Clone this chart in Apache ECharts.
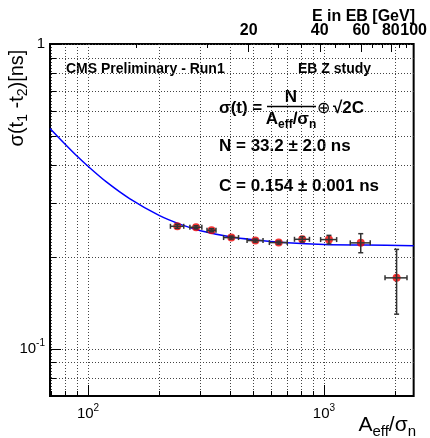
<!DOCTYPE html>
<html>
<head>
<meta charset="utf-8">
<script src="https://cdn.jsdelivr.net/npm/echarts@6/dist/echarts.min.js"></script>
<style>
html, body { margin: 0; padding: 0; background: #fff; }
#main { width: 430px; height: 438px; }
</style>
</head>
<body>
<div id="main"></div>
<script>
// measured points (A_eff/sigma_n, sigma(t1-t2) in ns)
var ratio = [239, 287, 334, 405, 512, 643, 809, 1050, 1432, 2032];
var ratio_err = [15.5, 16.7, 14.6, 29.5, 39.8, 56, 59, 82, 139, 217];
var sigma = [0.2523, 0.2505, 0.2449, 0.2317, 0.2265, 0.2231, 0.2287, 0.2282, 0.2226, 0.1709];
var sigma_err = [0.0038, 0.0028, 0.0028, 0.0026, 0.0026, 0.0025, 0.0046, 0.0074, 0.016, 0.041];

// fit curve
var fit_x = [69, 80, 90, 100, 120, 150, 200, 250, 300, 400, 500, 700, 1000, 1500, 2400];
var fit_y = [0.528, 0.469, 0.428, 0.397, 0.352, 0.311, 0.274, 0.255, 0.244, 0.233, 0.228, 0.223, 0.220, 0.219, 0.218];

// axes
var x_range = [69, 2400];
var y_range = [0.07, 1];
var x_major = [100, 1000];
var x_minor = [70, 80, 90, 200, 300, 400, 500, 600, 700, 800, 900, 2000];
var y_major = [0.1, 1];
var y_minor = [0.08, 0.09, 0.2, 0.3, 0.4, 0.5, 0.6, 0.7, 0.8, 0.9];
var e_ticks = [6.67, 13.3, 26.7, 33.3, 46.7, 53.3, 66.7, 73.3, 86.7, 93.3];
var e_labels = [20, 40, 60, 80, 100];
var ratio_per_gev = 24;

var FONT = '"Liberation Sans", Arial, Helvetica, sans-serif';

var chart = echarts.init(document.getElementById('main'));

function pow_label(v) {
	var e = Math.round(Math.log(v) / Math.LN10);
	if (e === 0) return '1';
	return '10{sup|' + e + '}';
}

var sup_rich = { sup: { fontSize: 10, verticalAlign: 'top', fontFamily: FONT, color: '#000' } };

var points = [];
for (var i = 0; i < ratio.length; i++) {
	points.push([ratio[i], sigma[i], ratio_err[i], sigma_err[i]]);
}
var fit = [];
for (var j = 0; j < fit_x.length; j++) {
	fit.push([fit_x[j], fit_y[j]]);
}

function err_bars(params, api) {
	var x = api.value(0), y = api.value(1), dx = api.value(2), dy = api.value(3);
	var c = api.coord([x, y]);
	var xl = api.coord([x - dx, y]), xh = api.coord([x + dx, y]);
	var yl = api.coord([x, y - dy]), yh = api.coord([x, y + dy]);
	var st = { stroke: '#333', lineWidth: 1.5 };
	var cap = 2.5;
	return {
		type: 'group',
		children: [
			{ type: 'line', shape: { x1: xl[0], y1: c[1], x2: xh[0], y2: c[1] }, style: st },
			{ type: 'line', shape: { x1: c[0], y1: yl[1], x2: c[0], y2: yh[1] }, style: st },
			{ type: 'line', shape: { x1: xl[0], y1: c[1] - cap, x2: xl[0], y2: c[1] + cap }, style: st },
			{ type: 'line', shape: { x1: xh[0], y1: c[1] - cap, x2: xh[0], y2: c[1] + cap }, style: st },
			{ type: 'line', shape: { x1: c[0] - cap, y1: yl[1], x2: c[0] + cap, y2: yl[1] }, style: st },
			{ type: 'line', shape: { x1: c[0] - cap, y1: yh[1], x2: c[0] + cap, y2: yh[1] }, style: st }
		]
	};
}

var grid_line = { show: true, lineStyle: { color: '#444', width: 1, type: [1, 2] } };

chart.setOption({
	animation: false,
	backgroundColor: '#fff',
	grid: {
		left: 50, right: 14, top: 44, bottom: 42,
		show: true, borderColor: '#000', borderWidth: 2, backgroundColor: 'transparent'
	},
	xAxis: [
	{
		// bottom, major ticks + labels
		type: 'log', min: x_range[0], max: x_range[1], position: 'bottom',
		axisLine: { show: false },
		axisTick: { inside: true, length: 11, customValues: x_major, lineStyle: { color: '#000', width: 1 } },
		axisLabel: {
			customValues: x_major, margin: 7, color: '#000', fontFamily: FONT, fontSize: 15, lineHeight: 22,
			formatter: pow_label, rich: sup_rich
		},
		splitLine: { show: false }
	},
	{
		// bottom, minor ticks + grid
		type: 'log', min: x_range[0], max: x_range[1], position: 'bottom',
		axisLine: { show: false },
		axisTick: { inside: true, length: 5, customValues: x_major.concat(x_minor), lineStyle: { color: '#000', width: 1 } },
		axisLabel: { show: false },
		splitLine: grid_line
	},
	{
		// top, E in EB
		type: 'log', min: x_range[0] / ratio_per_gev, max: x_range[1] / ratio_per_gev, position: 'top',
		axisLine: { show: false },
		axisTick: { inside: true, length: 8, customValues: e_labels, lineStyle: { color: '#000', width: 1 } },
		axisLabel: {
			customValues: e_labels, margin: 5, color: '#000', fontFamily: FONT, fontSize: 16, fontWeight: 'bold'
		},
		splitLine: { show: false }
	},
	{
		type: 'log', min: x_range[0] / ratio_per_gev, max: x_range[1] / ratio_per_gev, position: 'top',
		axisLine: { show: false },
		axisTick: { inside: true, length: 4, customValues: e_ticks, lineStyle: { color: '#000', width: 1 } },
		axisLabel: { show: false },
		splitLine: { show: false }
	}
	],
	yAxis: [
	{
		type: 'log', min: y_range[0], max: y_range[1], position: 'left',
		axisLine: { show: false },
		axisTick: { inside: true, length: 11, customValues: y_major, lineStyle: { color: '#000', width: 1 } },
		axisLabel: {
			customValues: y_major, margin: 5, color: '#000', fontFamily: FONT, fontSize: 15, lineHeight: 22,
			formatter: pow_label, rich: sup_rich
		},
		splitLine: { show: false }
	},
	{
		type: 'log', min: y_range[0], max: y_range[1], position: 'left',
		axisLine: { show: false },
		axisTick: { inside: true, length: 6, customValues: y_major.concat(y_minor), lineStyle: { color: '#000', width: 1 } },
		axisLabel: { show: false },
		splitLine: grid_line
	}
	],
	series: [
	{
		type: 'line', xAxisIndex: 0, yAxisIndex: 0, data: fit, smooth: 0.3,
		showSymbol: false, lineStyle: { color: '#0000ff', width: 1.5 }, z: 3
	},
	{
		type: 'scatter', xAxisIndex: 0, yAxisIndex: 0, data: points,
		symbol: 'circle', symbolSize: 8, itemStyle: { color: '#ee0000' }, z: 4
	},
	{
		type: 'custom', xAxisIndex: 0, yAxisIndex: 0, data: points,
		renderItem: err_bars, z: 5
	}
	],
	graphic: [
	{ type: 'text', x: 415, y: 17, style: { text: 'E in EB [GeV]', font: 'bold 16px ' + FONT, fill: '#000', align: 'right', verticalAlign: 'middle' } },
	{ type: 'text', x: 66, y: 69, style: { text: 'CMS Preliminary - Run1', font: 'bold 14px ' + FONT, fill: '#000', align: 'left', verticalAlign: 'middle' } },
	{ type: 'text', x: 298, y: 69, style: { text: 'EB Z study', font: 'bold 14px ' + FONT, fill: '#000', align: 'left', verticalAlign: 'middle' } },
	{ type: 'text', x: 219, y: 108, style: { text: 'σ(t) =', font: 'bold 17px ' + FONT, fill: '#000', align: 'left', verticalAlign: 'middle' } },
	{ type: 'text', x: 291, y: 97, style: { text: 'N', font: 'bold 17px ' + FONT, fill: '#000', align: 'center', verticalAlign: 'middle' } },
	{ type: 'line', shape: { x1: 267, y1: 106.5, x2: 316, y2: 106.5 }, style: { stroke: '#000', lineWidth: 1.5 } },
	{ type: 'text', x: 291, y: 119, style: {
		text: '{n|A}{s|eff}{n|/σ}{s|n}', align: 'center', verticalAlign: 'middle',
		rich: {
			n: { fontSize: 17, fontWeight: 'bold', fontFamily: FONT, fill: '#000', lineHeight: 24, verticalAlign: 'middle' },
			s: { fontSize: 12, fontWeight: 'bold', fontFamily: FONT, fill: '#000', verticalAlign: 'bottom' }
		} } },
	{ type: 'text', x: 323, y: 109, style: { text: '⊕', font: '16px ' + FONT, fill: '#000', align: 'center', verticalAlign: 'middle' } },
	{ type: 'text', x: 333, y: 108, style: { text: '√2C', font: 'bold 17px ' + FONT, fill: '#000', align: 'left', verticalAlign: 'middle' } },
	{ type: 'text', x: 219, y: 146, style: { text: 'N = 33.2 ± 2.0 ns', font: 'bold 17px ' + FONT, fill: '#000', align: 'left', verticalAlign: 'middle' } },
	{ type: 'text', x: 219, y: 186, style: { text: 'C = 0.154 ± 0.001 ns', font: 'bold 17px ' + FONT, fill: '#000', align: 'left', verticalAlign: 'middle' } },
	{ type: 'text', x: 17, y: 98, rotation: Math.PI / 2, style: {
		text: '{n|σ(t}{s|1}{n| -t}{s|2}{n|)[ns]}', align: 'center', verticalAlign: 'middle',
		rich: {
			n: { fontSize: 20, fontFamily: FONT, fill: '#000', lineHeight: 26, verticalAlign: 'middle' },
			s: { fontSize: 14, fontFamily: FONT, fill: '#000', verticalAlign: 'bottom' }
		} } },
	{ type: 'text', x: 416, y: 425, style: {
		text: '{n|A}{s|eff}{n|/σ}{s|n}', align: 'right', verticalAlign: 'middle',
		rich: {
			n: { fontSize: 21, fontFamily: FONT, fill: '#000', lineHeight: 28, verticalAlign: 'middle' },
			s: { fontSize: 15, fontFamily: FONT, fill: '#000', verticalAlign: 'bottom' }
		} } }
	]
});
</script>
</body>
</html>
